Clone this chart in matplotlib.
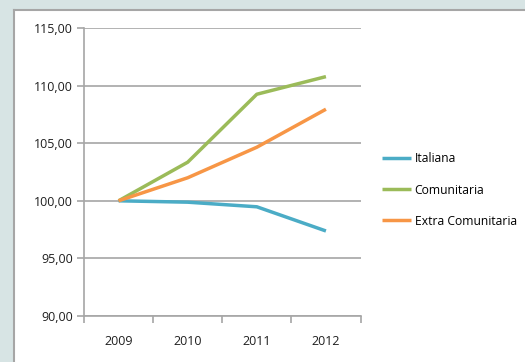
import matplotlib.pyplot as plt
from matplotlib.patches import Rectangle
from matplotlib.lines import Line2D
from matplotlib.ticker import FuncFormatter

years = ['2009', '2010', '2011', '2012']
italiana = [100.0, 99.88, 99.48, 97.38]
comunitaria = [100.0, 103.35, 109.25, 110.78]
extra_comunitaria = [100.0, 102.0, 104.65, 107.95]

series_names = ['Italiana', 'Comunitaria', 'Extra Comunitaria']
series_colors = ['#4BACC6', '#9BBB59', '#F79646']

plt.rcParams['font.family'] = ['Open Sans', 'DejaVu Sans']

fig = plt.figure(figsize=(5.25, 3.62), dpi=100, facecolor='#D7E4E4')

# white chart panel with grey top/left border
W, H = 525, 362
fig.add_artist(Rectangle((14 / W, 0), 1, 1 - 10 / H, transform=fig.transFigure,
                         facecolor='white', edgecolor='none', zorder=-10))
fig.add_artist(Line2D([14 / W, 1], [1 - 10 / H, 1 - 10 / H], transform=fig.transFigure,
                      color='#A6A6A6', linewidth=1.5, zorder=-9))
fig.add_artist(Line2D([14 / W, 14 / W], [0, 1 - 10 / H], transform=fig.transFigure,
                      color='#A6A6A6', linewidth=1.5, zorder=-9))

ax = fig.add_axes([84 / W, 1 - 316 / H, (360.5 - 84) / W, (316 - 28) / H])
ax.set_facecolor('none')

x = range(len(years))
for vals, name, col in zip([italiana, comunitaria, extra_comunitaria], series_names, series_colors):
    ax.plot(x, vals, color=col, linewidth=2.5, label=name, solid_capstyle='butt', zorder=3)

ax.set_xlim(-0.5, 3.5)
ax.set_ylim(90, 115)
ax.set_yticks(range(90, 116, 5))
ax.yaxis.set_major_formatter(FuncFormatter(lambda v, p: f'{v:.2f}'.replace('.', ',')))
ax.set_xticks(x)
ax.set_xticklabels(years)
ax.set_xticks([-0.5, 0.5, 1.5, 2.5, 3.5], minor=True)

ax.grid(axis='y', color='#A6A6A6', linewidth=1.2, zorder=1)
ax.set_axisbelow(True)
for side in ['top', 'right']:
    ax.spines[side].set_visible(False)
for side in ['left', 'bottom']:
    ax.spines[side].set_color('#A6A6A6')
    ax.spines[side].set_linewidth(1.2)

ax.tick_params(axis='y', which='major', length=5, width=1.2, color='#A6A6A6',
               labelsize=9, labelcolor='#1F1F1F', pad=3)
ax.tick_params(axis='x', which='major', length=0, labelsize=9, labelcolor='#1F1F1F', pad=14)
ax.tick_params(axis='x', which='minor', length=5, width=1.2, color='#A6A6A6')

fig.legend(loc='center left', bbox_to_anchor=(382 / W, 1 - 190 / H), frameon=False,
           fontsize=8.7, handlelength=2.4, handletextpad=0.3, labelspacing=1.5,
           borderaxespad=0, borderpad=0)

fig.savefig('out.png', dpi=100, facecolor=fig.get_facecolor())
